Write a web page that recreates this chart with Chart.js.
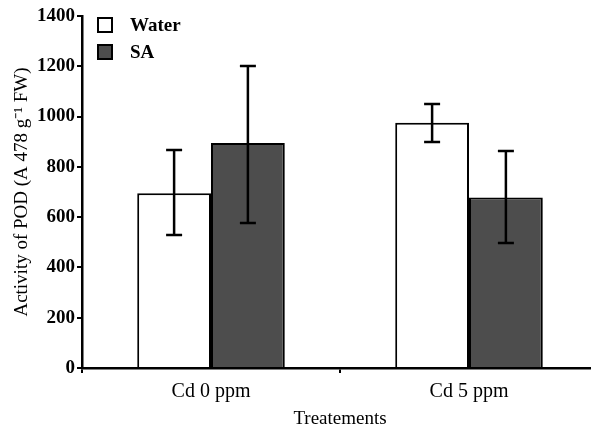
<!DOCTYPE html>
<html>
<head>
<meta charset="utf-8">
<script src="https://cdn.jsdelivr.net/npm/chart.js@4"></script>
<style>
  html, body { margin: 0; padding: 0; background: #fff; overflow: hidden; }
  #wrap { width: 606px; height: 430px; }
</style>
</head>
<body>
<div id="wrap"><canvas id="c" width="606" height="430"></canvas></div>
<script>
const categories = ['Cd 0 ppm', 'Cd 5 ppm'];
const seriesNames = ['Water', 'SA'];
const waterValues = [695, 975];
const saValues = [895, 678];
const waterErrHigh = [867, 1050];
const waterErrLow = [529, 899];
const saErrHigh = [1201, 863];
const saErrLow = [577, 497];
const yTicks = [0, 200, 400, 600, 800, 1000, 1200, 1400];

const FONT = "'Liberation Serif', 'Times New Roman', serif";

const errorBarPlugin = {
  id: 'errorBars',
  afterDatasetsDraw(chart) {
    const ctx = chart.ctx;
    const y = chart.scales.y;
    chart.data.datasets.forEach((ds, di) => {
      const meta = chart.getDatasetMeta(di);
      meta.data.forEach((bar, i) => {
        const top = y.getPixelForValue(ds.errHigh[i]);
        const bot = y.getPixelForValue(ds.errLow[i]);
        const cap = 8;
        ctx.save();
        ctx.strokeStyle = '#000';
        ctx.lineWidth = 2.5;
        ctx.beginPath();
        ctx.moveTo(bar.x, top); ctx.lineTo(bar.x, bot);
        ctx.moveTo(bar.x - cap, top); ctx.lineTo(bar.x + cap, top);
        ctx.moveTo(bar.x - cap, bot); ctx.lineTo(bar.x + cap, bot);
        ctx.stroke();
        ctx.restore();
      });
    });
  }
};

const legendPlugin = {
  id: 'customLegend',
  afterDraw(chart) {
    const ctx = chart.ctx;
    ctx.save();
    chart.data.datasets.forEach((ds, i) => {
      const bx = 98, by = 18 + i * 27, s = 14;
      ctx.fillStyle = ds.backgroundColor;
      ctx.fillRect(bx, by, s, s);
      ctx.strokeStyle = '#000';
      ctx.lineWidth = 2;
      ctx.strokeRect(bx, by, s, s);
      ctx.fillStyle = '#000';
      ctx.font = 'bold 19px ' + FONT;
      ctx.textBaseline = 'middle';
      ctx.textAlign = 'left';
      ctx.fillText(ds.label, 130, by + s / 2 + 1);
    });
    ctx.restore();
  }
};

new Chart(document.getElementById('c'), {
  type: 'bar',
  data: {
    labels: categories,
    datasets: [
      { label: seriesNames[0], data: waterValues, errHigh: waterErrHigh, errLow: waterErrLow,
        backgroundColor: '#ffffff', borderColor: '#000000', borderWidth: 2,
        barPercentage: 1.0, categoryPercentage: 0.572 },
      { label: seriesNames[1], data: saValues, errHigh: saErrHigh, errLow: saErrLow,
        backgroundColor: '#4d4d4d', borderColor: '#000000', borderWidth: 2,
        barPercentage: 1.0, categoryPercentage: 0.572 }
    ]
  },
  options: {
    responsive: false,
    animation: false,
    devicePixelRatio: 1,
    layout: { padding: { top: 16, right: 8, bottom: 0, left: 0 } },
    plugins: { legend: { display: false }, tooltip: { enabled: false } },
    scales: {
      x: {
        offset: true,
        grid: { display: true, drawOnChartArea: false, offset: true, tickLength: 5, color: '#000', lineWidth: 2 },
        border: { display: true, color: '#000', width: 2.5 },
        ticks: { color: '#000', font: { family: FONT, size: 20 }, padding: 7, maxRotation: 0 },
        title: { display: true, text: 'Treatements', color: '#000', font: { family: FONT, size: 19 }, padding: { top: 0, bottom: 0 } },
        afterFit(scale) { scale.height = 62; }
      },
      y: {
        min: 0, max: 1400,
        afterBuildTicks(scale) { scale.ticks = yTicks.map(v => ({ value: v })); },
        grid: { display: true, drawOnChartArea: false, tickLength: 5, color: '#000', lineWidth: 2 },
        border: { display: true, color: '#000', width: 2.5 },
        ticks: { color: '#000', font: { family: FONT, size: 19, weight: 'bold' }, padding: 2,
                 callback: (v) => String(v) },
        title: { display: true, text: 'Activity of POD (A 478 g\u207B\u00B9 FW)', color: '#000', font: { family: FONT, size: 19 }, padding: { top: 11, bottom: 0 } },
        afterFit(scale) { scale.width = 82; }
      }
    }
  },
  plugins: [errorBarPlugin, legendPlugin]
});
</script>
</body>
</html>
